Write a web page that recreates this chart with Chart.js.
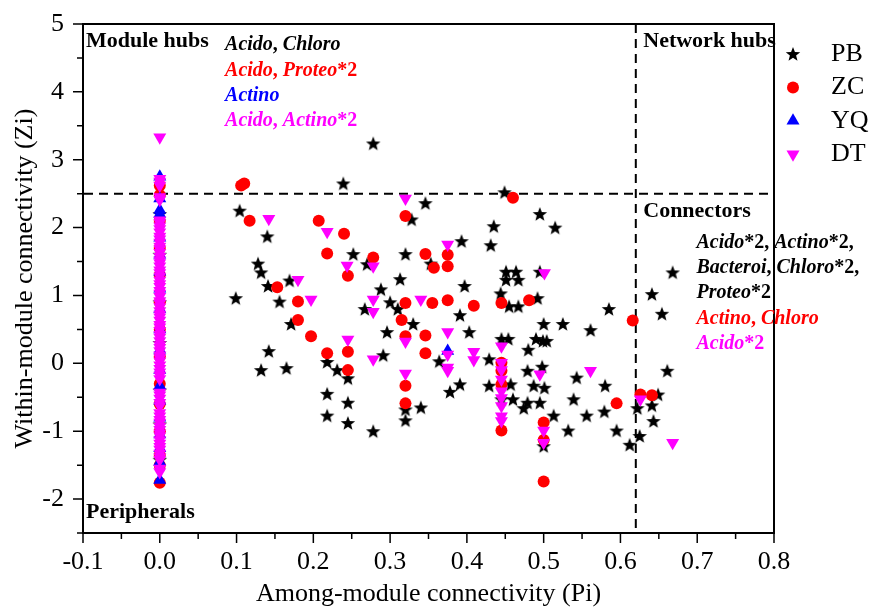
<!DOCTYPE html>
<html>
<head>
<meta charset="utf-8">
<title>Zi-Pi plot</title>
<script src="https://cdn.jsdelivr.net/npm/chart.js@4.4.1/dist/chart.umd.min.js"></script>
<style>
    html, body { margin: 0; padding: 0; background: #fff; }
    #zipi { display: block; }
</style>
</head>
<body>
<canvas id="zipi" width="870" height="608"></canvas>
<script>
// ---- data ----
const seriesNames = ['PB', 'ZC', 'YQ', 'DT'];
const seriesColors = ['#000000', '#ff0000', '#0000ff', '#ff00ff'];

// nodes with Pi > 0
const pbPi = [0.278, 0.239, 0.104, 0.140, 0.252, 0.270, 0.128, 0.132, 0.141, 0.169,
    0.099, 0.156, 0.288, 0.267, 0.300, 0.171, 0.142, 0.132, 0.165, 0.218,
    0.231, 0.245, 0.218, 0.245, 0.218, 0.245, 0.278, 0.291, 0.296, 0.346,
    0.328, 0.449, 0.495, 0.435, 0.393, 0.431, 0.320, 0.353, 0.313, 0.397,
    0.451, 0.464, 0.451, 0.467, 0.495, 0.310, 0.444, 0.455, 0.467, 0.492,
    0.391, 0.330, 0.403, 0.364, 0.429, 0.391, 0.378, 0.320, 0.340, 0.445,
    0.454, 0.480, 0.490, 0.499, 0.504, 0.500, 0.479, 0.498, 0.487, 0.501,
    0.429, 0.457, 0.460, 0.474, 0.479, 0.495, 0.500, 0.585, 0.654, 0.525,
    0.561, 0.661, 0.543, 0.580, 0.539, 0.579, 0.556, 0.513, 0.532, 0.595,
    0.612, 0.625, 0.622, 0.649, 0.641, 0.643, 0.515, 0.668, 0.641, 0.445,
    0.320];
const pbZi = [3.24, 2.65, 2.25, 1.87, 1.61, 1.46, 1.47, 1.34, 1.14, 1.22,
    0.96, 0.91, 1.09, 0.80, 0.90, 0.58, 0.18, -0.10, -0.07, 0.02,
    -0.10, -0.22, -0.45, -0.58, -0.77, -0.88, -1.00, 0.12, 0.46, 2.36,
    2.12, 2.52, 2.20, 2.02, 1.80, 1.74, 1.61, 1.47, 1.24, 1.14,
    1.35, 1.35, 1.23, 1.23, 1.35, 0.80, 1.03, 0.84, 0.84, 0.96,
    0.71, 0.58, 0.46, 0.03, 0.06, -0.31, -0.42, -0.84, -0.65, 0.36,
    0.36, 0.20, 0.36, 0.33, 0.33, 0.58, -0.11, -0.05, -0.33, -0.36,
    -0.33, -0.31, -0.53, -0.66, -0.58, -0.58, -1.22, 0.80, 0.73, 0.58,
    0.49, -0.11, -0.21, -0.33, -0.53, -0.71, -0.77, -0.77, -0.99, -0.99,
    -1.20, -1.07, -0.66, -0.46, -0.62, -0.85, 2.00, 1.34, 1.02, -0.53,
    -0.68];

const zcPi = [0.106, 0.110, 0.117, 0.207, 0.240, 0.218, 0.278, 0.245, 0.153, 0.180,
    0.180, 0.197, 0.218, 0.245, 0.245, 0.320, 0.460, 0.346, 0.375, 0.357,
    0.375, 0.320, 0.355, 0.375, 0.409, 0.445, 0.481, 0.315, 0.320, 0.346,
    0.346, 0.320, 0.320, 0.445, 0.445, 0.445, 0.445, 0.500, 0.500, 0.500,
    0.616, 0.595, 0.626, 0.641];
const zcZi = [2.62, 2.65, 2.10, 2.10, 1.91, 1.62, 1.56, 1.29, 1.12, 0.91,
    0.64, 0.40, 0.15, 0.17, -0.10, 2.17, 2.44, 1.61, 1.60, 1.41,
    1.43, 0.89, 0.89, 0.93, 0.85, 0.89, 0.93, 0.64, 0.40, 0.41,
    0.15, -0.33, -0.59, 0.01, -0.11, -0.31, -0.99, -0.87, -1.13, -1.74,
    0.63, -0.59, -0.46, -0.47];

const yqPi = [0.375];
const yqZi = [0.18];

const dtPi = [0.142, 0.218, 0.244, 0.278, 0.180, 0.197, 0.278, 0.278, 0.245, 0.278,
    0.320, 0.375, 0.501, 0.340, 0.320, 0.375, 0.375, 0.375, 0.375, 0.409,
    0.409, 0.320, 0.445, 0.495, 0.445, 0.445, 0.445, 0.445, 0.445, 0.445,
    0.445, 0.445, 0.500, 0.500, 0.561, 0.626, 0.668];
const dtZi = [2.13, 1.94, 1.44, 1.43, 1.23, 0.94, 0.94, 0.76, 0.35, 0.06,
    2.43, 1.75, 1.33, 0.94, 0.32, 0.46, 0.13, -0.06, -0.11, 0.17,
    0.05, -0.15, 0.25, -0.16, 0.01, -0.10, -0.24, -0.41, -0.51, -0.63,
    -0.78, -0.85, -0.99, -1.17, -0.11, -0.53, -1.17];

// nodes with Pi = 0 (the peripheral column)
const pbZiAtPi0 = [2.2, 1.6, 0.9, 0.3, -0.4, -0.9, -1.42];
const zcZiAtPi0 = [2.62, 2.48, 2.1, 1.7, 1.3, 0.9, 0.5, 0.1, -0.3, -0.6, -1.0, -1.35, -1.5, -1.76];
const yqZiAtPi0 = [2.75, 2.43, 2.26, 2.2, 1.85, 1.6, 1.35, 1.1, 0.8, 0.5, 0.2, -0.1, -0.33,
    -0.55, -0.8, -1.05, -1.25, -1.45, -1.72];
const dtZiAtPi0 = [3.33, 2.72, 2.68, 2.62, 2.45, 2.41, 2.11, 2.07, 2.02, 1.98, 1.93, 1.87,
    1.83, 1.78, 1.72, 1.68, 1.63, 1.57, 1.52, 1.48, 1.43, 1.37, 1.33, 1.28, 1.22, 1.17,
    1.13, 1.07, 1.03, 0.98, 0.92, 0.88, 0.83, 0.77, 0.72, 0.68, 0.63, 0.57, 0.53, 0.48,
    0.42, 0.38, 0.33, 0.27, 0.23, 0.18, 0.12, 0.08, 0.03, -0.03, -0.08, -0.13, -0.18,
    -0.23, -0.43, -0.47, -0.52, -0.58, -0.63, -0.73, -0.78, -0.83, -0.87, -0.93, -0.98,
    -1.03, -1.07, -1.13, -1.18, -1.23, -1.27, -1.33, -1.38, -1.42, -1.55, -1.6];

// thresholds
const ziCut = 2.5;
const piCut = 0.62;

// axes
const xTicks = [-0.1, 0.0, 0.1, 0.2, 0.3, 0.4, 0.5, 0.6, 0.7, 0.8];
const yTicks = [-2, -1, 0, 1, 2, 3, 4, 5];
const xTitle = 'Among-module connectivity (Pi)';
const yTitle = 'Within-module connectivity (Zi)';

// role names and key taxa in each role
const roleNames = ['Module hubs', 'Network hubs', 'Connectors', 'Peripherals'];
const moduleHubTaxa = ['Acido, Chloro', 'Acido, Proteo*2', 'Actino', 'Acido, Actino*2'];
const connectorTaxa = ['Acido*2, Actino*2,', 'Bacteroi, Chloro*2,', 'Proteo*2', 'Actino, Chloro', 'Acido*2'];
const connectorColors = ['#000000', '#000000', '#000000', '#ff0000', '#ff00ff'];

// ---- drawing ----
const FONT = '"Liberation Serif", "Times New Roman", serif';

function makeStar(r, color) {
    const c = document.createElement('canvas');
    const s = Math.ceil(r * 2 + 2);
    c.width = s;
    c.height = s;
    const g = c.getContext('2d');
    g.beginPath();
    for (let i = 0; i < 10; i++) {
        let rad = i % 2 ? r * 0.43 : r;
        let a = -Math.PI / 2 + i * Math.PI / 5;
        g.lineTo(s / 2 + rad * Math.cos(a), s / 2 + 0.6 + rad * Math.sin(a));
    }
    g.closePath();
    g.fillStyle = color;
    g.fill();
    return c;
}

const starImg = makeStar(7.6, '#000');

function toPoints(xs, ys, zeroYs) {
    let pts = zeroYs.map(v => ({ x: 0, y: v }));
    return pts.concat(xs.map((v, i) => ({ x: v, y: ys[i] })));
}

function richText(ctx, text, x, y, size) {
    let cx = x;
    text.match(/[A-Za-z]+|[^A-Za-z]+/g).forEach(part => {
        ctx.font = (/[A-Za-z]/.test(part) ? 'italic bold ' : 'bold ') + size + 'px ' + FONT;
        ctx.fillText(part, cx, y);
        cx += ctx.measureText(part).width;
    });
}

function drawMarker(ctx, i, x, y) {
    ctx.fillStyle = seriesColors[i];
    if (i === 0) {
        ctx.drawImage(starImg, x - starImg.width / 2, y - starImg.height / 2);
        return;
    }
    ctx.beginPath();
    if (i === 1) {
        ctx.arc(x, y, 6, 0, Math.PI * 2);
    } else {
        let r = 7.5, dir = i === 2 ? -1 : 1;
        ctx.moveTo(x, y + dir * r);
        ctx.lineTo(x - r * 0.866, y - dir * r / 2);
        ctx.lineTo(x + r * 0.866, y - dir * r / 2);
    }
    ctx.closePath();
    ctx.fill();
}

const zipiDecor = {
    id: 'zipiDecor',
    beforeDatasetsDraw(chart) {
        const { ctx, chartArea: a, scales: { x, y } } = chart;
        ctx.save();
        ctx.strokeStyle = '#000';
        ctx.lineWidth = 2;
        ctx.setLineDash([9, 6]);
        let yz = y.getPixelForValue(ziCut);
        ctx.beginPath();
        ctx.moveTo(a.left + 1, yz);
        ctx.lineTo(a.right - 6, yz);
        ctx.stroke();
        let xp = x.getPixelForValue(piCut);
        ctx.beginPath();
        ctx.moveTo(xp, a.top);
        ctx.lineTo(xp, a.bottom);
        ctx.stroke();
        ctx.restore();
    },
    afterDraw(chart) {
        const { ctx, chartArea: a, scales: { x, y } } = chart;
        ctx.save();

        // box: top and right sides
        ctx.strokeStyle = '#000';
        ctx.lineWidth = 2;
        ctx.beginPath();
        ctx.moveTo(a.left, a.top);
        ctx.lineTo(a.right, a.top);
        ctx.lineTo(a.right, a.bottom);
        ctx.stroke();

        // outward tick marks, major and minor
        ctx.lineWidth = 1.5;
        ctx.beginPath();
        for (let k = 0; k <= 18; k++) {
            let v = -0.1 + k * 0.05;
            let px = x.getPixelForValue(v);
            ctx.moveTo(px, a.bottom);
            ctx.lineTo(px, a.bottom + (k % 2 ? 6 : 10));
        }
        for (let k = 0; k <= 15; k++) {
            let v = -2.5 + k * 0.5;
            let py = y.getPixelForValue(v);
            ctx.moveTo(a.left, py);
            ctx.lineTo(a.left - (k % 2 ? 10 : 6), py);
        }
        ctx.stroke();

        // role names
        ctx.fillStyle = '#000';
        ctx.textBaseline = 'middle';
        ctx.textAlign = 'left';
        ctx.font = 'bold 22px ' + FONT;
        ctx.fillText(roleNames[0], x.getPixelForValue(-0.0961), y.getPixelForValue(4.74));
        ctx.fillText(roleNames[1], x.getPixelForValue(0.6297), y.getPixelForValue(4.74));
        ctx.fillText(roleNames[2], x.getPixelForValue(0.6297), y.getPixelForValue(2.244));
        ctx.fillText(roleNames[3], x.getPixelForValue(-0.0961), y.getPixelForValue(-2.2));

        // taxa lists
        moduleHubTaxa.forEach((t, i) => {
            ctx.fillStyle = seriesColors[i];
            richText(ctx, t, x.getPixelForValue(0.085), y.getPixelForValue(4.69 - i * 0.373), 20);
        });
        connectorTaxa.forEach((t, i) => {
            ctx.fillStyle = connectorColors[i];
            richText(ctx, t, x.getPixelForValue(0.699), y.getPixelForValue(1.78 - i * 0.374), 20);
        });

        // legend
        seriesNames.forEach((name, i) => {
            let ly = 54 + i * 33.4;
            drawMarker(ctx, i, 793, ly);
            ctx.fillStyle = '#000';
            ctx.font = '26px ' + FONT;
            ctx.fillText(name, 831, ly);
        });
        ctx.restore();
    }
};

const ctx = document.getElementById('zipi').getContext('2d');
const zipiChart = new Chart(ctx, {
    type: 'scatter',
    data: {
        datasets: [
            {
                label: seriesNames[0],
                data: toPoints(pbPi, pbZi, pbZiAtPi0),
                pointStyle: starImg,
                pointRadius: 7,
                order: 4
            },
            {
                label: seriesNames[1],
                data: toPoints(zcPi, zcZi, zcZiAtPi0),
                pointStyle: 'circle',
                pointRadius: 6,
                backgroundColor: seriesColors[1],
                borderWidth: 0,
                order: 3
            },
            {
                label: seriesNames[2],
                data: toPoints(yqPi, yqZi, yqZiAtPi0),
                pointStyle: 'triangle',
                pointRadius: 7.5,
                backgroundColor: seriesColors[2],
                borderWidth: 0,
                order: 2
            },
            {
                label: seriesNames[3],
                data: toPoints(dtPi, dtZi, dtZiAtPi0),
                pointStyle: 'triangle',
                rotation: 180,
                pointRadius: 7.5,
                backgroundColor: seriesColors[3],
                borderWidth: 0,
                order: 1
            }
        ]
    },
    options: {
        responsive: false,
        animation: false,
        events: [],
        layout: { padding: { top: 24, right: 96, left: 0, bottom: 0 } },
        plugins: {
            legend: { display: false },
            tooltip: { enabled: false }
        },
        scales: {
            x: {
                type: 'linear',
                min: -0.1,
                max: 0.8,
                afterBuildTicks: s => { s.ticks = xTicks.map(v => ({ value: v })); },
                afterFit: s => { s.height = 75; },
                ticks: {
                    padding: 14,
                    color: '#000',
                    font: { family: FONT, size: 26 },
                    maxRotation: 0,
                    callback: v => v.toFixed(1)
                },
                grid: { display: false, drawTicks: false },
                border: { display: true, color: '#000', width: 2 },
                title: {
                    display: true,
                    text: xTitle,
                    color: '#000',
                    font: { family: FONT, size: 26, lineHeight: 1.1 },
                    padding: { top: 0, bottom: 0 }
                }
            },
            y: {
                type: 'linear',
                min: -2.5,
                max: 5,
                afterBuildTicks: s => { s.ticks = yTicks.map(v => ({ value: v })); },
                afterFit: s => {
                    s.width = 83;
                    // labels may hang over the ends; the frame is fixed by layout padding
                    s.paddingTop = 0;
                    s.paddingBottom = 0;
                },
                ticks: {
                    padding: 19,
                    color: '#000',
                    font: { family: FONT, size: 26 },
                    callback: v => String(v)
                },
                grid: { display: false, drawTicks: false },
                border: { display: true, color: '#000', width: 2 },
                title: {
                    display: true,
                    text: yTitle,
                    color: '#000',
                    font: { family: FONT, size: 26 },
                    padding: { top: 10, bottom: 0 }
                }
            }
        }
    },
    plugins: [zipiDecor]
});
</script>
</body>
</html>
